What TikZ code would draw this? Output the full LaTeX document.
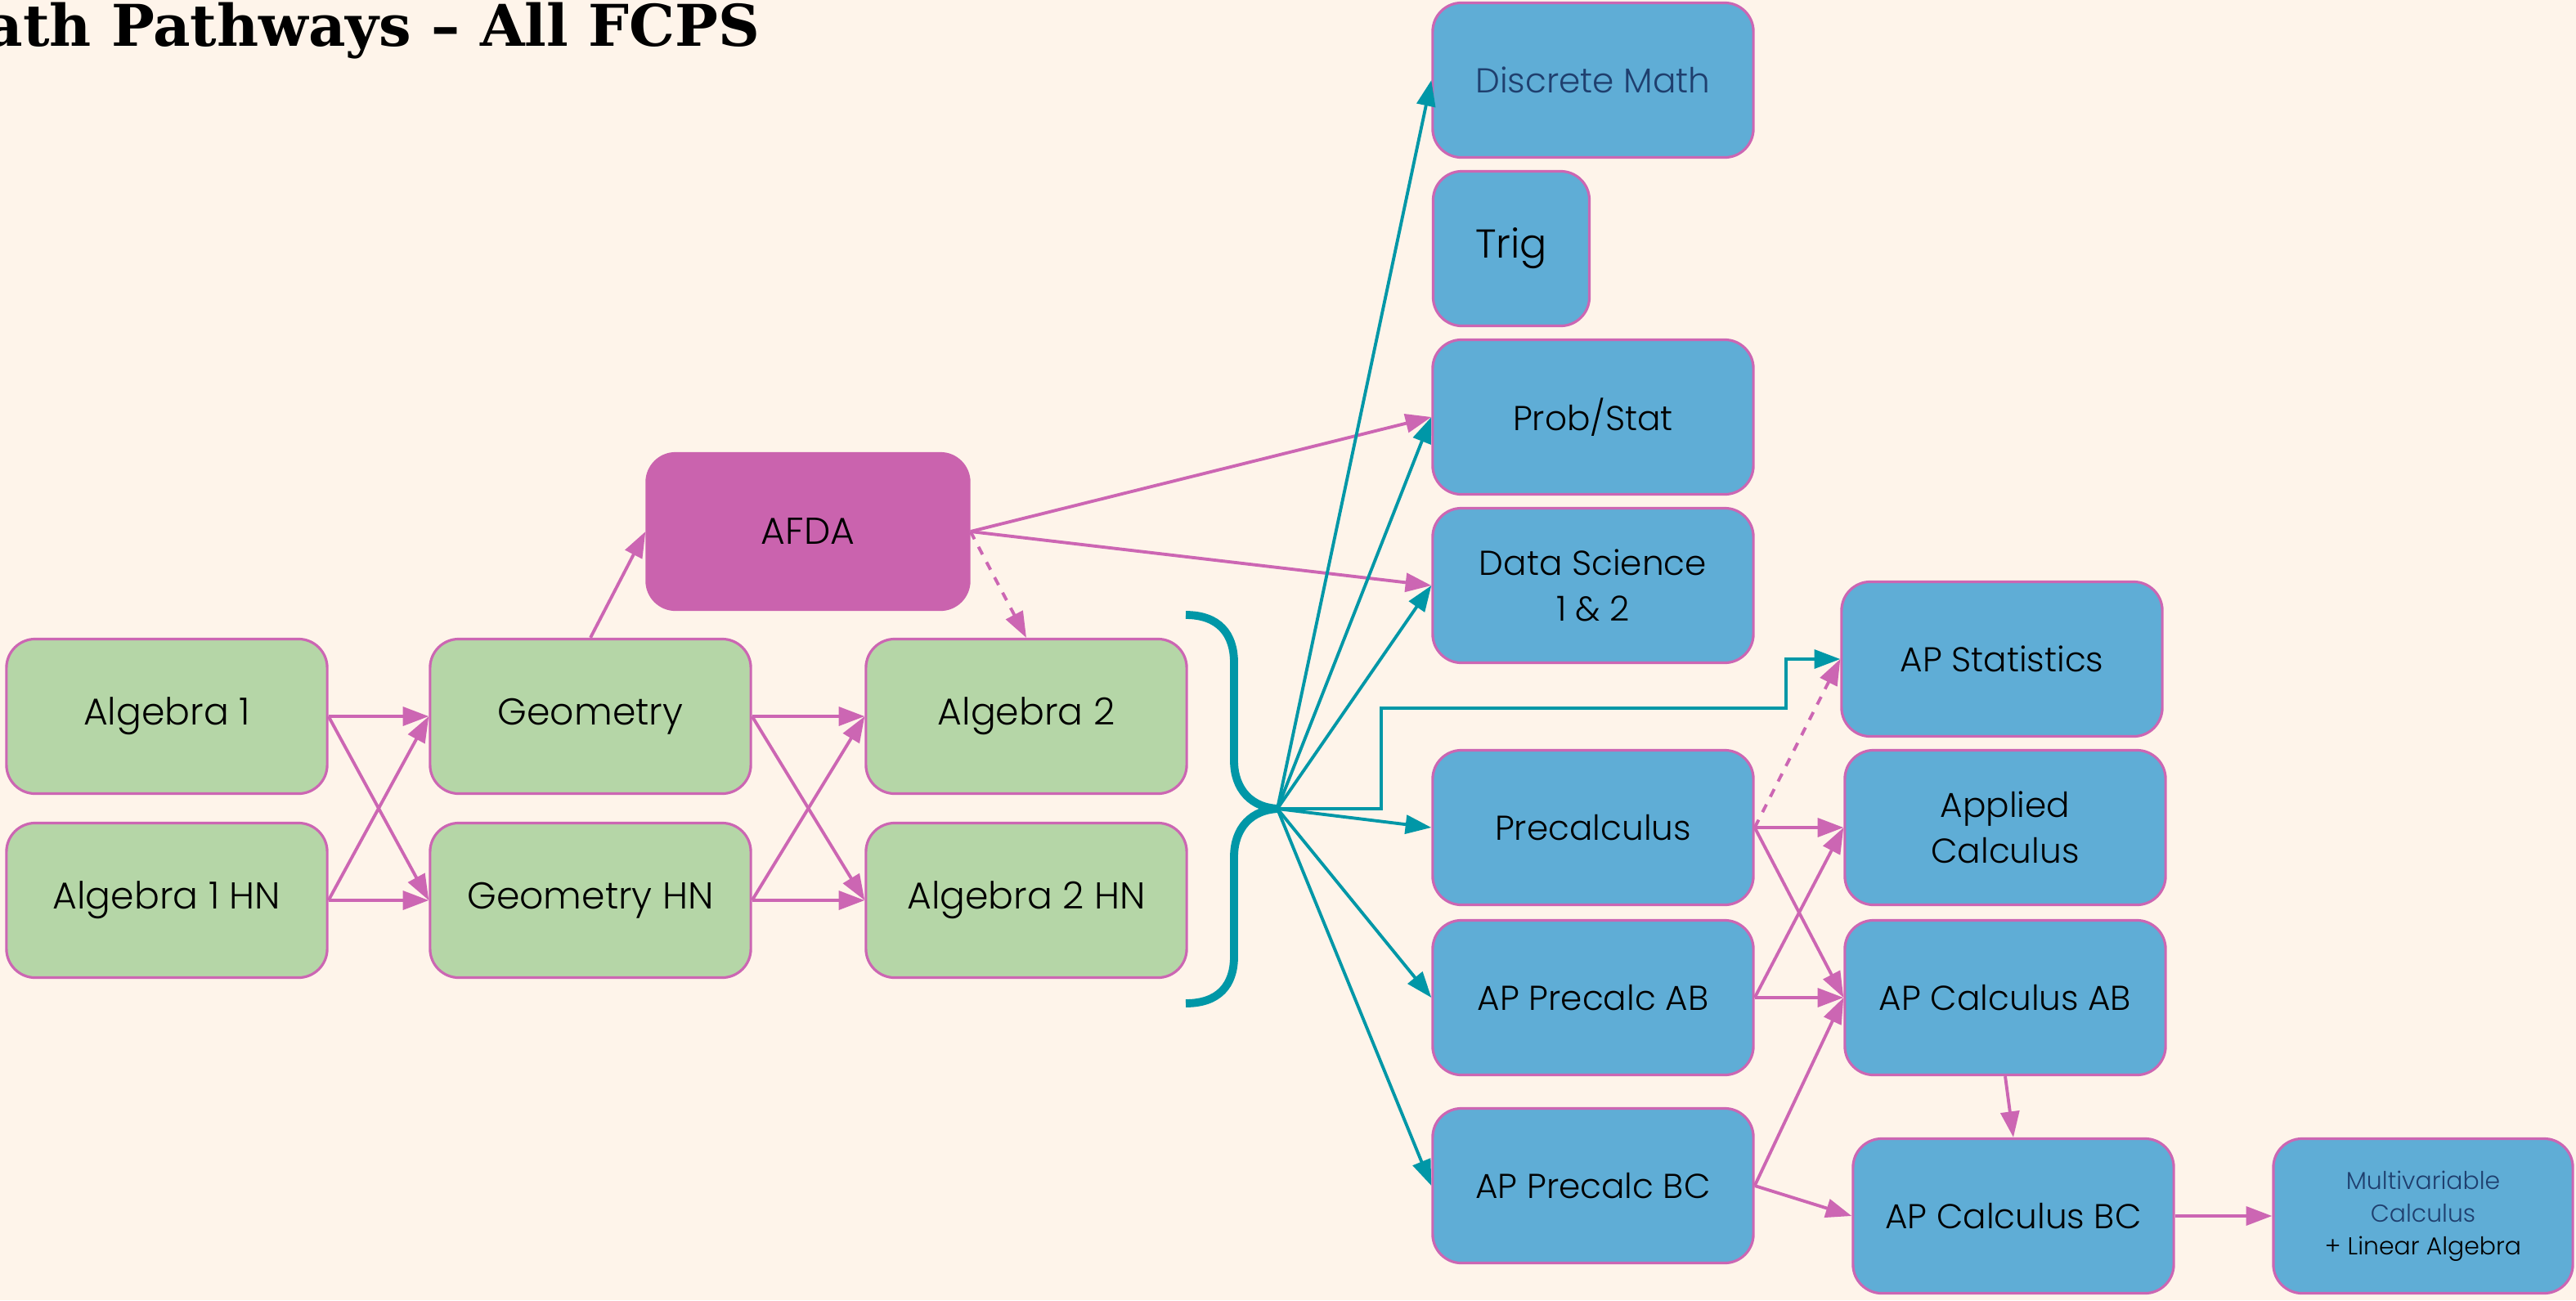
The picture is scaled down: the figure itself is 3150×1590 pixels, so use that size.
\documentclass[tikz,border=0pt]{standalone}
\usepackage{fontspec}
\setmainfont{Poppins Light}
\newfontfamily\titlefont{DejaVu Serif}
\usetikzlibrary{arrows.meta}

\definecolor{bgcream}{HTML}{FEF4EA}
\definecolor{coregreen}{HTML}{B5D6A7}
\definecolor{advblue}{HTML}{5FADD6}
\definecolor{afdapink}{HTML}{CA63AE}
\definecolor{boxedge}{HTML}{CC66B3}
\definecolor{pinkln}{HTML}{CC66B3}
\definecolor{tealln}{HTML}{0097A7}
\definecolor{navytxt}{HTML}{1F3F6E}

\begin{document}
\begin{tikzpicture}[x=0.01cm, y=-0.01cm,
	box/.style={rectangle, rounded corners=10pt, draw=boxedge, line width=0.9pt, minimum width=3.92cm, minimum height=1.89cm, align=center, inner sep=2pt, font=\fontsize{12}{16}\selectfont},
	core/.style={box, fill=coregreen, font=\fontsize{13}{16}\selectfont},
	adv/.style={box, fill=advblue},
	pk/.style={draw=pinkln, line width=1.1pt, -{Triangle[length=9pt,width=6.5pt]}},
	tl/.style={draw=tealln, line width=1.1pt, -{Triangle[length=9pt,width=6.5pt]}}]

	\fill [bgcream] (0,0) rectangle (3150,1590);
	\clip (0,0) rectangle (3150,1590);

	\node at (930,56) [anchor=base east, inner sep=0pt, font=\titlefont\bfseries\fontsize{20}{22}\selectfont] (title) {Math Pathways – All FCPS};

	\node at (204,876) [core] (alg1) {Algebra 1};
	\node at (204,1101) [core] (alg1hn) {Algebra 1 HN};
	\node at (722,876) [core] (geo) {Geometry};
	\node at (722,1101) [core] (geohn) {Geometry HN};
	\node at (1255,876) [core] (alg2) {Algebra 2};
	\node at (1255,1101) [core] (alg2hn) {Algebra 2 HN};
	\node at (988,650) [box, fill=afdapink, draw=afdapink, minimum width=3.94cm, minimum height=1.91cm, font=\fontsize{13}{16}\selectfont] (afda) {AFDA};

	\node at (1948,98) [adv, text=navytxt] (discrete) {Discrete Math};
	\node at (1848,304) [adv, minimum width=1.91cm, font=\fontsize{14}{16}\selectfont] (trig) {Trig};
	\node at (1948,510) [adv] (probstat) {Prob/Stat};
	\node at (1948,716) [adv] (datasci) {Data Science\\1 \& 2};
	\node at (1948,1012) [adv] (precalc) {Precalculus};
	\node at (1948,1220) [adv] (precab) {AP Precalc AB};
	\node at (1948,1450) [adv] (precbc) {AP Precalc BC};

	\node at (2448,806) [adv] (apstat) {AP Statistics};
	\node at (2452,1012) [adv] (applied) {Applied\\Calculus};
	\node at (2452,1220) [adv] (calcab) {AP Calculus AB};
	\node at (2462,1487) [adv] (calcbc) {AP Calculus BC};
	\node at (2963,1487) [adv, minimum width=3.66cm, font=\fontsize{8.5}{11.4}\selectfont] (multi) {\textcolor{navytxt}{Multivariable}\\\textcolor{navytxt}{Calculus}\\+ Linear Algebra};

	\draw [draw=tealln, line width=2.8pt] (1450,752) .. controls (1490,752) and (1509,775) .. (1509,810) -- (1509,930) .. controls (1509,965) and (1530,989) .. (1566,989) .. controls (1530,989) and (1509,1013) .. (1509,1048) -- (1509,1170) .. controls (1509,1205) and (1490,1227) .. (1450,1227);
	\coordinate (tip) at (1562,989);

	\draw [pk] (alg1.east) -- (geo.west);
	\draw [pk] (alg1.east) -- (geohn.west);
	\draw [pk] (alg1hn.east) -- (geo.west);
	\draw [pk] (alg1hn.east) -- (geohn.west);
	\draw [pk] (geo.east) -- (alg2.west);
	\draw [pk] (geo.east) -- (alg2hn.west);
	\draw [pk] (geohn.east) -- (alg2.west);
	\draw [pk] (geohn.east) -- (alg2hn.west);
	\draw [pk] (geo.north) -- (afda.west);
	\draw [pk, dashed] (afda.east) -- (alg2.north);
	\draw [pk] (afda.east) -- (probstat.west);
	\draw [pk] (afda.east) -- (datasci.west);

	\draw [tl] (tip) -- (discrete.west);
	\draw [tl] (tip) -- (probstat.west);
	\draw [tl] (tip) -- (datasci.west);
	\draw [tl] (tip) -- ++(127,0) |- (2184,866) |- (apstat.west);
	\draw [tl] (tip) -- (precalc.west);
	\draw [tl] (tip) -- (precab.west);
	\draw [tl] (tip) -- (precbc.west);

	\draw [pk, dashed] (precalc.east) -- (apstat.west);
	\draw [pk] (precalc.east) -- (applied.west);
	\draw [pk] (precalc.east) -- (calcab.west);
	\draw [pk] (precab.east) -- (applied.west);
	\draw [pk] (precab.east) -- (calcab.west);
	\draw [pk] (precbc.east) -- (calcab.west);
	\draw [pk] (precbc.east) -- (calcbc.west);
	\draw [pk] (calcab.south) -- (calcbc.north);
	\draw [pk] (calcbc.east) -- (multi.west);
\end{tikzpicture}
\end{document}
